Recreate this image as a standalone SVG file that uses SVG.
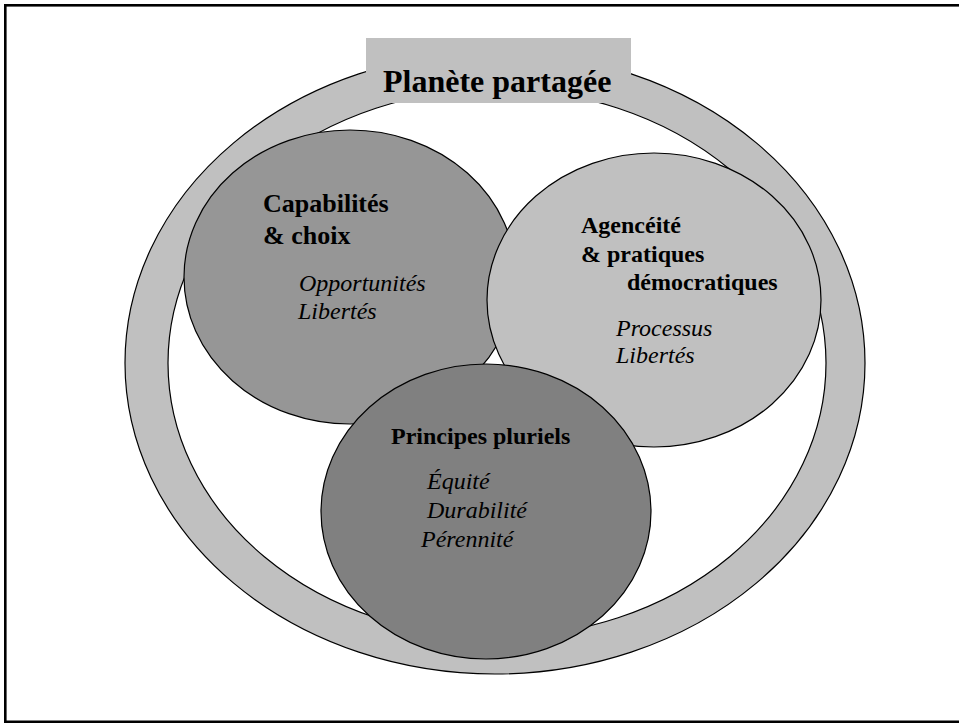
<svg xmlns="http://www.w3.org/2000/svg" width="959" height="723" viewBox="0 0 959 723">
<style>
.ol{stroke:#000;stroke-width:1.2}
.b{font-family:"Liberation Serif","Times New Roman",serif;font-weight:bold;fill:#000}
.i{font-family:"Liberation Serif","Times New Roman",serif;font-style:italic;fill:#000;font-size:24px}
</style>
<rect x="0" y="0" width="959" height="723" fill="#fff"/>
<rect x="5.3" y="5.3" width="970" height="716.5" fill="none" stroke="#000" stroke-width="2.6"/>
<g id="planete">
<ellipse class="ol" cx="495" cy="363" rx="370" ry="311" fill="#C0C0C0"/>
<ellipse class="ol" cx="497" cy="363" rx="329" ry="274" fill="#fff"/>
<rect x="366" y="38" width="265" height="65" fill="#C0C0C0"/>
<text class="b" x="383" y="92" font-size="32">Planète partagée</text>
</g>
<g id="capabilites">
<ellipse class="ol" cx="350" cy="277" rx="166" ry="147" fill="#969696"/>
<text class="b" x="263" y="212" font-size="26">Capabilités</text>
<text class="b" x="263" y="244" font-size="26">&amp; choix</text>
<text class="i" x="299" y="291">Opportunités</text>
<text class="i" x="298" y="319">Libertés</text>
</g>
<g id="agenceite">
<ellipse class="ol" cx="654" cy="300" rx="167" ry="147" fill="#C0C0C0"/>
<text class="b" x="581" y="233" font-size="24">Agencéité</text>
<text class="b" x="581" y="262" font-size="24">&amp; pratiques</text>
<text class="b" x="627" y="290" font-size="24">démocratiques</text>
<text class="i" x="616" y="336">Processus</text>
<text class="i" x="616" y="363">Libertés</text>
</g>
<g id="principes">
<ellipse class="ol" cx="486" cy="511.5" rx="165" ry="147.5" fill="#808080"/>
<text class="b" x="391" y="444" font-size="24">Principes pluriels</text>
<text class="i" x="427" y="489">Équité</text>
<text class="i" x="427" y="518">Durabilité</text>
<text class="i" x="421" y="547">Pérennité</text>
</g>
<g id="connectors"/>
</svg>
